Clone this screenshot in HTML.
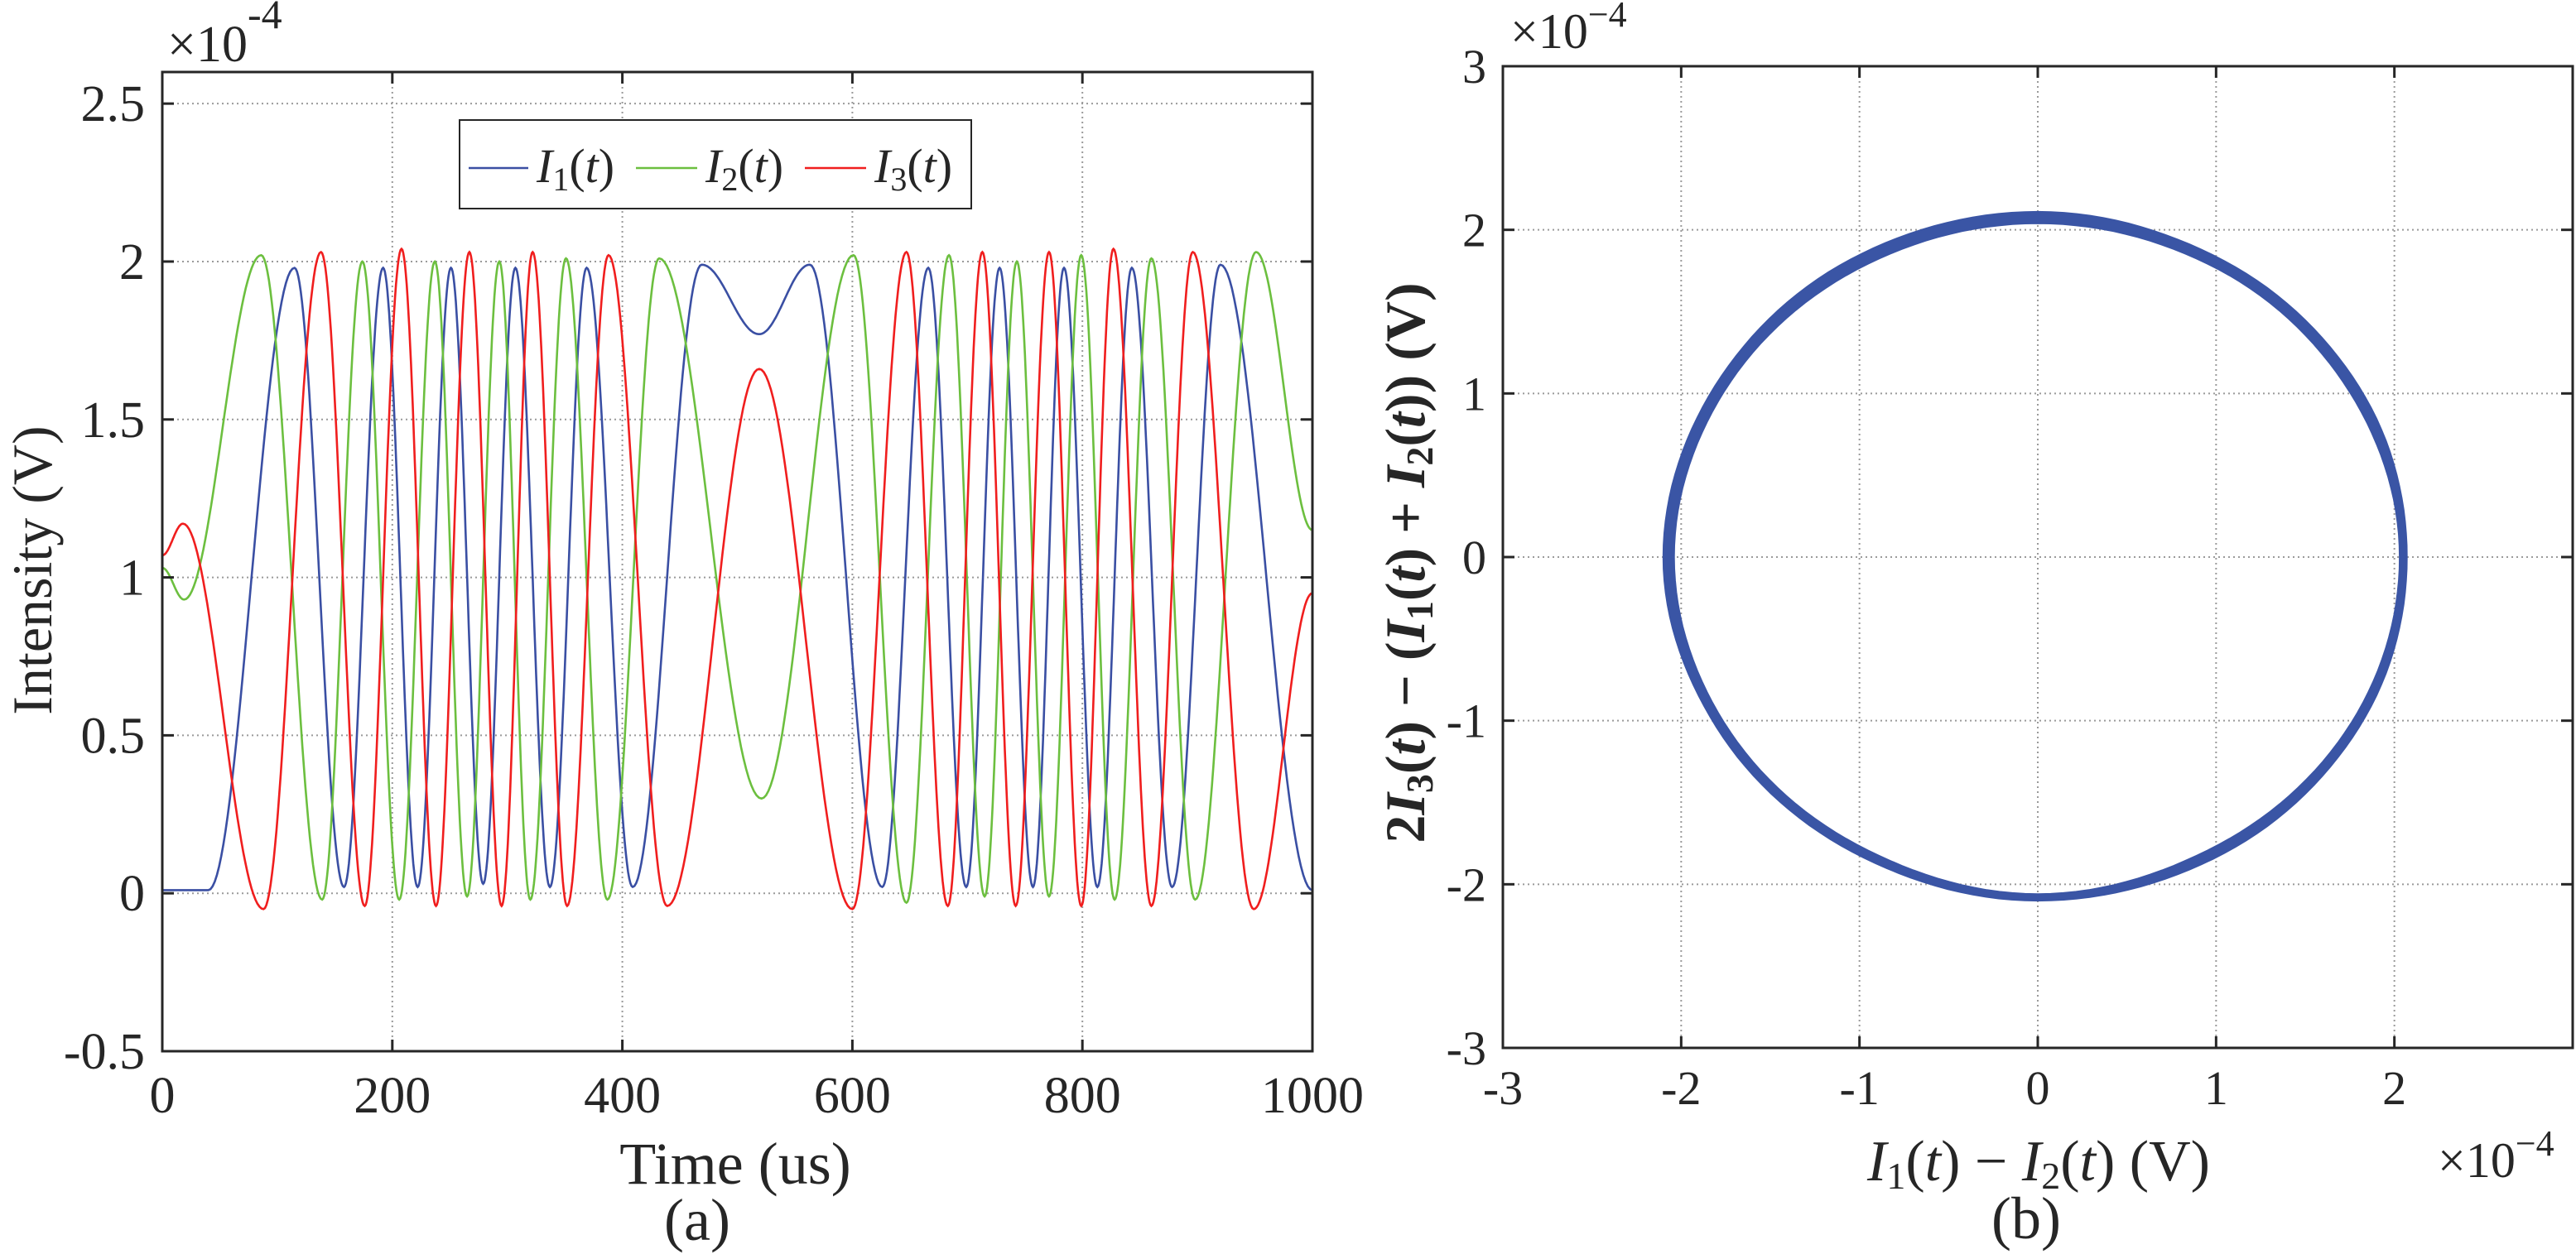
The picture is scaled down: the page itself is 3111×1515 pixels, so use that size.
<!DOCTYPE html>
<html><head><meta charset="utf-8"><style>
html,body{margin:0;padding:0;background:#fff;}
svg{display:block;font-family:"Liberation Serif","DejaVu Serif",serif;}
svg text{font-family:"Liberation Serif","DejaVu Serif",serif !important;fill:#262626;}
</style></head><body>
<svg id="fig" width="3111" height="1515" viewBox="0 0 3111 1515" xmlns="http://www.w3.org/2000/svg" font-family="Liberation Serif, serif">
<g id="panelA"></g>
<g id="panelB"></g>
</svg>
<script>
// ---- Panel (a) data: extrema [time(us), value(x1e-4 V)] ----
const xTicksA = [0,200,400,600,800,1000];
const yTicksA = [-0.5,0,0.5,1,1.5,2,2.5];
const yTickLabelsA = ["-0.5","0","0.5","1","1.5","2","2.5"];
const i1Times = [0,40,115,158,192,222,251,279,307,337,369,409,469,519,563,626,666,699,728,757,784,813,843,878,920,1000];
const i1Vals  = [0.01,0.01,1.98,0.02,1.98,0.02,1.98,0.03,1.98,0.02,1.98,0.02,1.99,1.77,1.99,0.02,1.98,0.02,1.98,0.02,1.98,0.02,1.98,0.02,1.99,0.01];
const i2Times = [0,19,86,139,174,206,237,265,293,320,351,387,432,521,601,647,684,715,743,771,799,828,860,898,951,1000];
const i2Vals  = [1.03,0.93,2.02,-0.02,2.0,-0.02,2.0,-0.01,2.0,-0.02,2.01,-0.02,2.01,0.30,2.02,-0.03,2.02,-0.01,2.0,-0.01,2.02,-0.02,2.01,-0.02,2.03,1.15];
const i3Times = [0,18,88,138,176,208,238,267,295,322,352,388,439,519,600,647,683,713,742,771,799,827,860,896,949,1000];
const i3Vals  = [1.07,1.17,-0.05,2.03,-0.04,2.04,-0.04,2.03,-0.04,2.03,-0.04,2.02,-0.04,1.66,-0.05,2.03,-0.04,2.03,-0.04,2.03,-0.04,2.04,-0.04,2.03,-0.05,0.95];
const seriesNames = ["I1","I2","I3"];
const seriesColors = ["#3a4fa3","#6cbf3f","#f01e1e"];

// ---- Panel (b) data: radius of loop (x1e-4 V) vs angle (deg) ----
const xTicksB = [-3,-2,-1,0,1,2];
const yTicksB = [-3,-2,-1,0,1,2,3];
const loopAngles = [0,30,60,90,120,150,180,210,240,270,300,330];
const loopRadiusOuter = [2.07,2.08,2.09,2.11,2.10,2.09,2.10,2.08,2.08,2.10,2.09,2.08];
const loopRadiusInner = [2.03,2.02,2.03,2.04,2.03,2.03,2.04,2.03,2.03,2.06,2.03,2.03];

const NS="http://www.w3.org/2000/svg";
const FF="Liberation Serif, serif";
function mk(parent,tag,attrs,txt){const e=document.createElementNS(NS,tag);for(const k in attrs)e.setAttribute(k,attrs[k]);if(tag==='text')e.setAttribute('font-family',FF);if(txt!==undefined)e.textContent=txt;parent.appendChild(e);return e;}

// ===== Panel A =====
const A={x0:196,x1:1585,y0:1270,y1:87,xmin:0,xmax:1000,ymin:-0.5,ymax:2.6};
const ax=t=>A.x0+(t-A.xmin)/(A.xmax-A.xmin)*(A.x1-A.x0);
const ay=v=>A.y0-(v-A.ymin)/(A.ymax-A.ymin)*(A.y0-A.y1);
const gA=document.getElementById('panelA');
xTicksA.forEach(t=>{const l=mk(gA,'line',{x1:ax(t),x2:ax(t),y1:A.y1,y2:A.y0,stroke:'#9a9a9a','stroke-width':2,'stroke-dasharray':'2,4'});

});
yTicksA.forEach(v=>{const l=mk(gA,'line',{x1:A.x0,x2:A.x1,y1:ay(v),y2:ay(v),stroke:'#9a9a9a','stroke-width':2,'stroke-dasharray':'2,4'});

});
function pathFromExtrema(ts,vs){let d='';
 for(let i=0;i<ts.length-1;i++){const n=40;for(let k=(i?1:0);k<=n;k++){const f=k/n;const t=ts[i]+(ts[i+1]-ts[i])*f;const v=vs[i]+(vs[i+1]-vs[i])*(1-Math.cos(Math.PI*f))/2;d+=(d?'L':'M')+ax(t).toFixed(1)+','+ay(v).toFixed(1);}}
 return d;}
[[i1Times,i1Vals],[i2Times,i2Vals],[i3Times,i3Vals]].forEach((s,i)=>{const p=mk(gA,'path',{d:pathFromExtrema(s[0],s[1]),fill:'none',stroke:seriesColors[i],'stroke-width':2.6});

});
const boxA=mk(gA,'rect',{x:A.x0,y:A.y1,width:A.x1-A.x0,height:A.y0-A.y1,fill:'none',stroke:'#262626','stroke-width':3});


xTicksA.forEach(t=>{mk(gA,'line',{x1:ax(t),x2:ax(t),y1:A.y0,y2:A.y0-14,stroke:'#262626','stroke-width':3});mk(gA,'line',{x1:ax(t),x2:ax(t),y1:A.y1,y2:A.y1+14,stroke:'#262626','stroke-width':3});
 const tx=mk(gA,'text',{x:ax(t),y:1344,'font-size':62,'text-anchor':'middle'},String(t));
 
 });
yTicksA.forEach((v,i)=>{mk(gA,'line',{x1:A.x0,x2:A.x0+14,y1:ay(v),y2:ay(v),stroke:'#262626','stroke-width':3});mk(gA,'line',{x1:A.x1,x2:A.x1-14,y1:ay(v),y2:ay(v),stroke:'#262626','stroke-width':3});
 const tx=mk(gA,'text',{x:175,y:ay(v)+21,'font-size':62,'text-anchor':'end'},yTickLabelsA[i]);
 
 });
</script>
<script>
(function(){
const gA=document.getElementById('panelA');
gA.insertAdjacentHTML('beforeend',`
<text font-family="Liberation Serif, serif" x="202" y="74" font-size="62">×10<tspan dy="-40" font-size="50">-4</tspan></text>
<text font-family="Liberation Serif, serif" transform="translate(62,689) rotate(-90)" font-size="68" text-anchor="middle">Intensity (V)</text>
<text font-family="Liberation Serif, serif" x="888" y="1430" font-size="72" text-anchor="middle">Time (us)</text>
<text font-family="Liberation Serif, serif" x="842" y="1498" font-size="72" text-anchor="middle">(a)</text>
<g>
<rect x="555" y="145" width="618" height="107" fill="#fff" stroke="#262626" stroke-width="2"/>
<line x1="566" y1="203" x2="638" y2="203" stroke="#3a4fa3" stroke-width="2.6"/>
<text font-family="Liberation Serif, serif" x="648" y="220" font-size="58" font-style="italic">I<tspan font-size="40" font-style="normal" dy="10">1</tspan><tspan dy="-10" font-style="normal">(</tspan>t<tspan font-style="normal">)</tspan></text>
<line x1="768" y1="203" x2="842" y2="203" stroke="#6cbf3f" stroke-width="2.6"/>
<text font-family="Liberation Serif, serif" x="852" y="220" font-size="58" font-style="italic">I<tspan font-size="40" font-style="normal" dy="10">2</tspan><tspan dy="-10" font-style="normal">(</tspan>t<tspan font-style="normal">)</tspan></text>
<line x1="972" y1="203" x2="1046" y2="203" stroke="#f01e1e" stroke-width="2.6"/>
<text font-family="Liberation Serif, serif" x="1056" y="220" font-size="58" font-style="italic">I<tspan font-size="40" font-style="normal" dy="10">3</tspan><tspan dy="-10" font-style="normal">(</tspan>t<tspan font-style="normal">)</tspan></text>
</g>`);
})();
</script>
<script>
// ===== Panel B =====
const B={x0:1815,x1:3107,y0:1266,y1:80,min:-3,max:3};
const bx=v=>B.x0+(v-B.min)/(B.max-B.min)*(B.x1-B.x0);
const by=v=>B.y0-(v-B.min)/(B.max-B.min)*(B.y0-B.y1);
const gB=document.getElementById('panelB');
xTicksB.forEach(v=>{const l=mk(gB,'line',{x1:bx(v),x2:bx(v),y1:B.y1,y2:B.y0,stroke:'#9a9a9a','stroke-width':2,'stroke-dasharray':'2,4'});

});
yTicksB.forEach(v=>{const l=mk(gB,'line',{x1:B.x0,x2:B.x1,y1:by(v),y2:by(v),stroke:'#9a9a9a','stroke-width':2,'stroke-dasharray':'2,4'});

});
function radiusAt(arr,deg){const n=loopAngles.length;let i=Math.floor(deg/30)%n;const f=(deg-loopAngles[i])/30;const j=(i+1)%n;return arr[i]+(arr[j]-arr[i])*(1-Math.cos(Math.PI*f))/2;}
function loopPath(arr){let d='';for(let a=0;a<=360;a+=2){const r=radiusAt(arr,a%360);const rad=a*Math.PI/180;d+=(d?'L':'M')+bx(r*Math.cos(rad)).toFixed(1)+','+by(r*Math.sin(rad)).toFixed(1);}return d+'Z';}
const band=mk(gB,'path',{d:loopPath(loopRadiusOuter)+loopPath(loopRadiusInner),fill:'#3a55a5','fill-rule':'evenodd',stroke:'#3a55a5','stroke-width':2});


const boxB=mk(gB,'rect',{x:B.x0,y:B.y1,width:B.x1-B.x0,height:B.y0-B.y1,fill:'none',stroke:'#262626','stroke-width':3});


xTicksB.forEach(v=>{mk(gB,'line',{x1:bx(v),x2:bx(v),y1:B.y0,y2:B.y0-14,stroke:'#262626','stroke-width':3});mk(gB,'line',{x1:bx(v),x2:bx(v),y1:B.y1,y2:B.y1+14,stroke:'#262626','stroke-width':3});
 const tx=mk(gB,'text',{x:bx(v),y:1334,'font-size':58,'text-anchor':'middle'},String(v));
 
 });
yTicksB.forEach(v=>{mk(gB,'line',{x1:B.x0,x2:B.x0+14,y1:by(v),y2:by(v),stroke:'#262626','stroke-width':3});mk(gB,'line',{x1:B.x1,x2:B.x1-14,y1:by(v),y2:by(v),stroke:'#262626','stroke-width':3});
 const tx=mk(gB,'text',{x:1795,y:by(v)+20,'font-size':58,'text-anchor':'end'},String(v));
 
 });
gB.insertAdjacentHTML('beforeend',`
<text font-family="Liberation Serif, serif" x="1824" y="58" font-size="60">×10<tspan dy="-26" font-size="44">−4</tspan></text>
<text font-family="Liberation Serif, serif" x="2944" y="1422" font-size="60">×10<tspan dy="-26" font-size="44">−4</tspan></text>
<text font-family="Liberation Serif, serif" x="2462" y="1426" font-size="70" text-anchor="middle"><tspan font-style="italic">I</tspan><tspan font-size="46" dy="10">1</tspan><tspan dy="-10">(</tspan><tspan font-style="italic">t</tspan>) − <tspan font-style="italic">I</tspan><tspan font-size="46" dy="10">2</tspan><tspan dy="-10">(</tspan><tspan font-style="italic">t</tspan>)  (V)</text>
<text font-family="Liberation Serif, serif" transform="translate(1720,680) rotate(-90)" font-size="68" font-weight="bold" text-anchor="middle">2<tspan font-style="italic">I</tspan><tspan font-size="46" dy="10">3</tspan><tspan dy="-10">(</tspan><tspan font-style="italic">t</tspan>) − (<tspan font-style="italic">I</tspan><tspan font-size="46" dy="10">1</tspan><tspan dy="-10">(</tspan><tspan font-style="italic">t</tspan>) + <tspan font-style="italic">I</tspan><tspan font-size="46" dy="10">2</tspan><tspan dy="-10">(</tspan><tspan font-style="italic">t</tspan>)) (V)</text>
<text font-family="Liberation Serif, serif" x="2447" y="1496" font-size="72" text-anchor="middle">(b)</text>`);
</script>
</body></html>
